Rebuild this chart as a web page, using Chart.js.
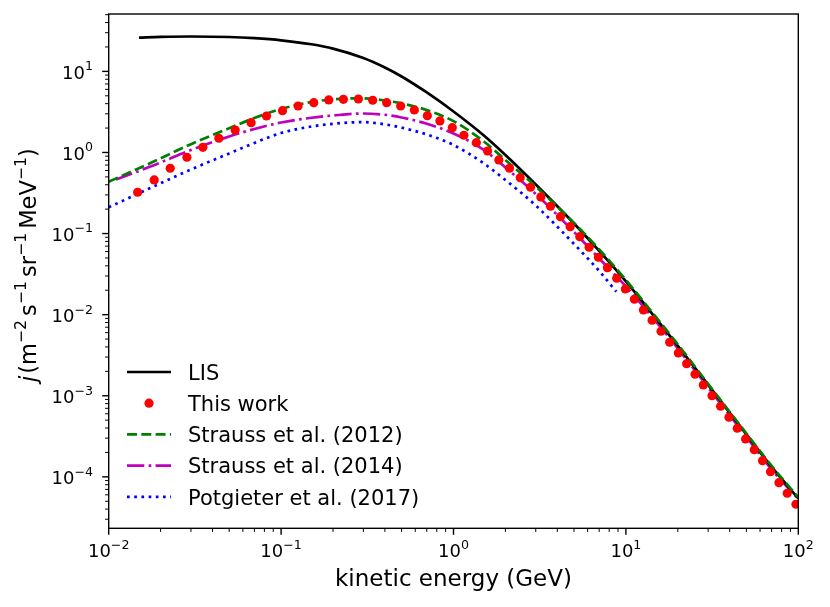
<!DOCTYPE html>
<html>
<head>
<meta charset="utf-8">
<script src="https://cdn.jsdelivr.net/npm/chart.js@4.4.1/dist/chart.umd.min.js"></script>
<style>
html,body{margin:0;padding:0;background:#ffffff;}
canvas{display:block;}
</style>
</head>
<body>
<canvas id="chart" width="830" height="607"></canvas>
<script>
// ---------------- data ----------------
const lisEnergy = [0.015,0.02,0.03,0.05,0.07,0.1,0.15,0.2,0.3,0.4,0.5,0.7,1,1.5,2,3,5,7,10,15,20,30,50,70,100];
const lisFlux = [26.12,26.64,26.94,26.56,25.67,24.18,21.59,19.10,14.63,11.17,8.650,5.494,3.203,1.620,0.9315,0.4031,0.1332,0.06103,0.02567,0.008851,0.004112,0.001359,0.0003333,0.0001325,0.00005415];

const thisWorkEnergy = [0.01472,0.01837,0.02274,0.02842,0.03518,0.04355,0.05414,0.06703,0.08229,0.1019,
  0.1255,0.1547,0.1890,0.2298,0.2808,0.3398,0.4096,0.4938,0.5928,0.7051,
  0.8341,0.9840,1.149,1.356,1.576,1.832,2.113,2.438,2.797,3.210,
  3.653,4.173,4.751,5.399,6.119,6.929,7.811,8.845,9.933,11.20,
  12.63,14.19,15.99,17.94,20.15,22.51,25.18,28.12,31.58,35.42,
  39.62,44.26,49.45,55.53,62.02,69.01,77.21,86.25,96.9];
const thisWorkFlux = [0.3230,0.4580,0.6385,0.8726,1.159,1.497,1.894,2.330,2.818,3.277,
  3.744,4.113,4.440,4.529,4.567,4.403,4.113,3.744,3.342,2.843,
  2.446,2.022,1.630,1.321,1.043,0.8082,0.6385,0.4890,0.3724,0.2827,
  0.2171,0.1616,0.1216,0.09158,0.06778,0.05102,0.03798,0.02810,0.02074,0.01548,
  0.01143,0.008530,0.006243,0.004567,0.003371,0.002487,0.001841,0.001359,0.001003,0.0007421,
  0.0005430,0.0003973,0.0002934,0.0002164,0.0001584,0.0001159,0.00008483,0.00006278,0.00004594];

const strauss2012Energy = [0.01,0.015,0.02,0.03,0.05,0.07,0.1,0.15,0.2,0.3,0.4,0.5,0.7,1,1.5,2,3,5,7,10,15,20,30,50,70,100];
const strauss2012Flux = [0.4365,0.6402,0.8480,1.266,1.993,2.663,3.439,4.195,4.515,4.659,4.377,4.031,3.333,2.432,1.367,0.8082,0.3808,0.1351,0.06369,0.02679,0.009237,0.004292,0.001398,0.0003428,0.0001363,0.00005572];

const strauss2014Energy = [0.011,0.015,0.02,0.03,0.05,0.07,0.1,0.15,0.2,0.3,0.4,0.5,0.7,1,1.5,2,3,5,7,10,15,20,30,50,70,100];
const strauss2014Flux = [0.4647,0.5910,0.7528,1.074,1.575,1.949,2.344,2.679,2.859,3.026,2.917,2.702,2.259,1.715,1.074,0.6532,0.3078,0.1046,0.04932,0.02227,0.008128,0.003830,0.001266,0.0003104,0.0001234,0.00005338];

const potgieter2017Energy = [0.01,0.015,0.02,0.03,0.05,0.07,0.1,0.15,0.2,0.3,0.4,0.5,0.7,1,1.5,2,3,5,7,8.8];
const potgieter2017Flux = [0.2110,0.3140,0.4171,0.6172,0.9720,1.310,1.740,2.092,2.259,2.364,2.221,2.022,1.667,1.237,0.7318,0.4580,0.2221,0.07442,0.03457,0.01921];

const seriesLabels = ['LIS','This work','Strauss et al. (2012)','Strauss et al. (2014)','Potgieter et al. (2017)'];

const xTickValues = [0.01,0.1,1,10,100];
const xTickLabels = ['10^−2','10^−1','10^0','10^1','10^2'];
const yTickValues = [1e-4,1e-3,1e-2,1e-1,1,10];
const yTickLabels = ['10^−4','10^−3','10^−2','10^−1','10^0','10^1'];

const xAxisTitle = 'kinetic energy (GeV)';
// y-axis title pieces: [text, style] style: 'i' italic, 'n' normal, 's' superscript, 'g' gap(px)
const yAxisTitleParts = [['j','i'],['2','g'],['(m','n'],['−2','s'],['4','g'],['s','n'],['−1','s'],['4','g'],['sr','n'],['−1','s'],['4','g'],['MeV','n'],['−1','s'],[')','n']];

const xMin = 0.01, xMax = 100, yMin = 2.32e-5, yMax = 51;

// ---------------- helpers ----------------
function pts(xs, ys){ return xs.map((x,i)=>({x:x, y:ys[i]})); }
const FONT = '"DejaVu Sans"';
Chart.defaults.font.family = FONT;
Chart.defaults.color = '#000000';

function drawPow(ctx, label, x, y, align, baseSize){
  const [b, e] = label.split('^');
  const supSize = baseSize*0.7;
  ctx.font = baseSize + 'px ' + FONT;
  const wb = ctx.measureText(b).width;
  ctx.font = supSize + 'px ' + FONT;
  const we = ctx.measureText(e).width;
  const total = wb + we;
  let sx = align === 'center' ? x - total/2 : x - total;
  ctx.textAlign = 'left';
  ctx.textBaseline = 'alphabetic';
  ctx.font = baseSize + 'px ' + FONT;
  ctx.fillText(b, sx, y);
  ctx.font = supSize + 'px ' + FONT;
  ctx.fillText(e, sx + wb, y - baseSize*0.46);
}

function logTicks(min, max){
  const out = [];
  const e0 = Math.floor(Math.log10(min)), e1 = Math.ceil(Math.log10(max));
  for (let e = e0; e <= e1; e++){
    for (let k = 1; k <= 9; k++){
      const v = k*Math.pow(10,e);
      if (v >= min*0.99999 && v <= max*1.00001) out.push({v:v, major:k===1});
    }
  }
  return out;
}

const mplAxes = {
  id: 'mplAxes',
  afterDraw(chart){
    const ctx = chart.ctx, a = chart.chartArea;
    const xs = chart.scales.x, ys = chart.scales.y;
    ctx.save();
    ctx.strokeStyle = '#000000';
    ctx.fillStyle = '#000000';
    ctx.setLineDash([]);
    // tick marks
    logTicks(xMin, xMax).forEach(t=>{
      const px = xs.getPixelForValue(t.v);
      ctx.lineWidth = t.major ? 1.4 : 1.0;
      ctx.beginPath();
      ctx.moveTo(px, a.bottom);
      ctx.lineTo(px, a.bottom + (t.major ? 6.5 : 3.6));
      ctx.stroke();
    });
    logTicks(yMin, yMax).forEach(t=>{
      const py = ys.getPixelForValue(t.v);
      ctx.lineWidth = t.major ? 1.4 : 1.0;
      ctx.beginPath();
      ctx.moveTo(a.left, py);
      ctx.lineTo(a.left - (t.major ? 6.5 : 3.6), py);
      ctx.stroke();
    });
    // spines
    ctx.lineWidth = 1.4;
    ctx.strokeRect(a.left, a.top, a.right - a.left, a.bottom - a.top);
    // tick labels
    xTickValues.forEach((v,i)=>{
      drawPow(ctx, xTickLabels[i], xs.getPixelForValue(v), a.bottom + 29, 'center', 18);
    });
    yTickValues.forEach((v,i)=>{
      drawPow(ctx, yTickLabels[i], a.left - 15.7, ys.getPixelForValue(v) + 7.2, 'right', 18);
    });
    // y-axis title
    const fs = 22.5;
    const fontOf = s => s==='i' ? ('italic ' + fs + 'px ' + FONT) : s==='s' ? ((fs*0.7) + 'px ' + FONT) : (fs + 'px ' + FONT);
    let total = 0;
    yAxisTitleParts.forEach(([t,s])=>{
      if (s==='g'){ total += parseFloat(t); return; }
      ctx.font = fontOf(s); total += ctx.measureText(t).width;
    });
    ctx.save();
    ctx.translate(36, (a.top + a.bottom)/2 - 6);
    ctx.rotate(-Math.PI/2);
    ctx.textAlign = 'left'; ctx.textBaseline = 'alphabetic';
    let cx = -total/2;
    yAxisTitleParts.forEach(([t,s])=>{
      if (s==='g'){ cx += parseFloat(t); return; }
      ctx.font = fontOf(s);
      ctx.fillText(t, cx, s==='s' ? -fs*0.46 : 0);
      cx += ctx.measureText(t).width;
    });
    ctx.restore();
    // legend
    const ds = chart.data.datasets;
    ds.forEach((d,i)=>{
      const cy = 372 + i*31.2;
      if (d.showLine === false){
        ctx.fillStyle = d.pointBackgroundColor;
        ctx.beginPath();
        ctx.arc(149, cy, d.pointRadius, 0, Math.PI*2);
        ctx.fill();
      } else {
        ctx.strokeStyle = d.borderColor;
        ctx.lineWidth = d.borderWidth;
        ctx.lineCap = 'butt';
        ctx.setLineDash(d.borderDash || []);
        ctx.beginPath();
        ctx.moveTo(127, cy);
        ctx.lineTo(171, cy);
        ctx.stroke();
        ctx.setLineDash([]);
      }
      ctx.fillStyle = '#000000';
      ctx.font = '21px ' + FONT;
      ctx.textAlign = 'left';
      ctx.textBaseline = 'alphabetic';
      ctx.fillText(d.label, 188, cy + 7.7);
    });
    ctx.restore();
  }
};

const lineBase = {borderWidth:2.7, pointRadius:0, pointHoverRadius:0, fill:false, cubicInterpolationMode:'monotone', borderCapStyle:'butt', clip:0};

new Chart(document.getElementById('chart'), {
  type: 'line',
  data: {
    datasets: [
      Object.assign({}, lineBase, {label: seriesLabels[0], data: pts(lisEnergy, lisFlux), borderColor:'#000000', order:4}),
      {label: seriesLabels[1], data: pts(thisWorkEnergy, thisWorkFlux), showLine:false, pointRadius:4.6, pointHoverRadius:4.6,
       pointBackgroundColor:'#ff0000', pointBorderColor:'#ff0000', pointBorderWidth:0, borderColor:'#ff0000', backgroundColor:'#ff0000', order:0, clip:0},
      Object.assign({}, lineBase, {label: seriesLabels[2], data: pts(strauss2012Energy, strauss2012Flux), borderColor:'#008000', borderDash:[10,4.3], order:3}),
      Object.assign({}, lineBase, {label: seriesLabels[3], data: pts(strauss2014Energy, strauss2014Flux), borderColor:'#bf00bf', borderDash:[17.3,4.3,2.7,4.3], order:5}),
      Object.assign({}, lineBase, {label: seriesLabels[4], data: pts(potgieter2017Energy, potgieter2017Flux), borderColor:'#0000ff', borderDash:[2.7,4.5], order:1})
    ]
  },
  options: {
    responsive: false,
    animation: false,
    devicePixelRatio: 1,
    layout: {padding: {left:0, right:31.7, top:14, bottom:0}},
    plugins: {legend:{display:false}, tooltip:{enabled:false}, title:{display:false}},
    scales: {
      x: {
        type:'logarithmic', min:xMin, max:xMax, position:'bottom',
        grid:{display:false, drawTicks:false}, border:{display:false},
        ticks:{display:false},
        title:{display:true, text:xAxisTitle, color:'#000000', font:{size:23, family:FONT}, padding:{top:0, bottom:13}},
        afterFit(s){ s.height = 78.7; }
      },
      y: {
        type:'logarithmic', min:yMin, max:yMax, position:'left',
        grid:{display:false, drawTicks:false}, border:{display:false},
        ticks:{display:false},
        title:{display:false},
        afterFit(s){ s.width = 108.7; }
      }
    }
  },
  plugins: [mplAxes]
});
</script>
</body>
</html>
